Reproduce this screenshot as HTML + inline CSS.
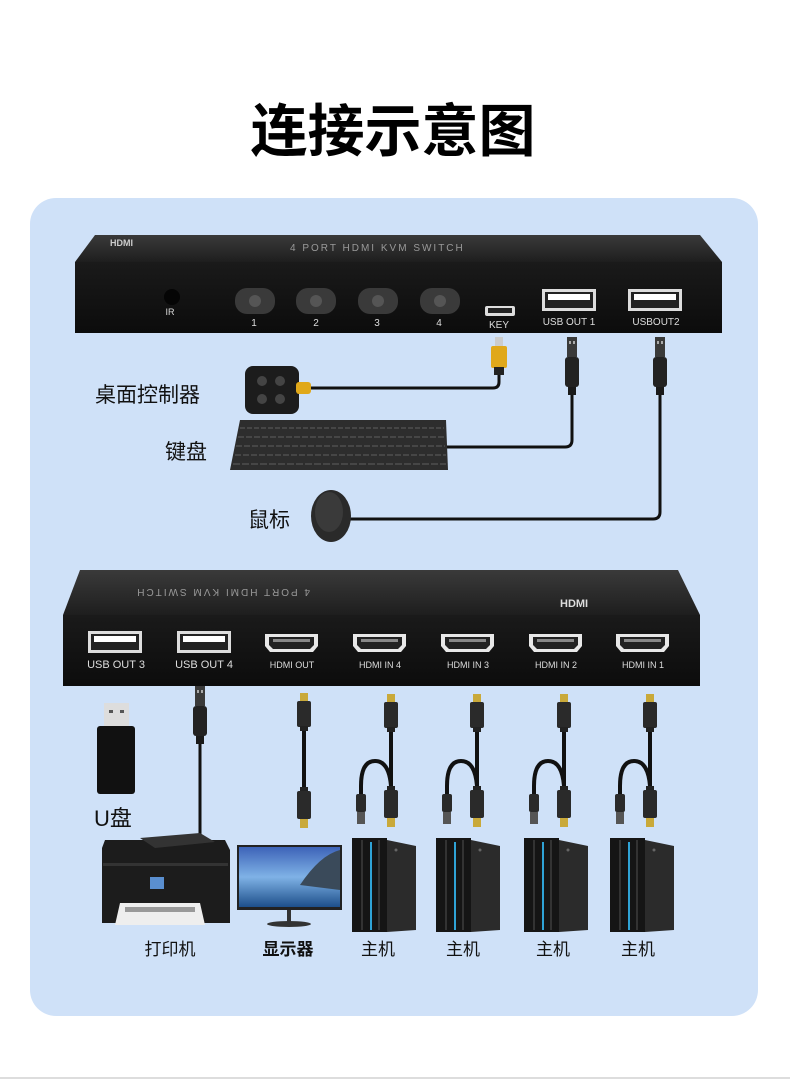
<!DOCTYPE html>
<html><head><meta charset="utf-8"><style>
html,body{margin:0;padding:0;background:#fff;}
svg{display:block;}
text{font-family:"Liberation Sans","Noto Sans CJK SC",sans-serif;}
</style></head><body>
<svg width="790" height="1082" viewBox="0 0 790 1082" xmlns="http://www.w3.org/2000/svg">
<defs>
<linearGradient id="top" x1="0" y1="0" x2="0" y2="1"><stop offset="0" stop-color="#3a3a3a"/><stop offset="1" stop-color="#1e1e1e"/></linearGradient>
<linearGradient id="front" x1="0" y1="0" x2="0" y2="1"><stop offset="0" stop-color="#1a1a1a"/><stop offset="1" stop-color="#0c0c0c"/></linearGradient>
<linearGradient id="sky" x1="0" y1="0" x2="0" y2="1"><stop offset="0" stop-color="#3d63b8"/><stop offset="0.5" stop-color="#7fb2e6"/><stop offset="1" stop-color="#1d4f8a"/></linearGradient>
<g id="hdmiport"><path d="M0,2 h53 v12 l-5,6 h-43 l-5,-6z" fill="#e8e8e8"/><path d="M4,5 h45 v8 l-4,4 h-37 l-4,-4z" fill="#222"/><rect x="8" y="7" width="37" height="3" fill="#888"/></g>
<g id="usbport"><rect x="0" y="0" width="54" height="22" fill="#ddd"/><rect x="3" y="3" width="48" height="16" fill="#222"/><rect x="6" y="5" width="42" height="6" fill="#fff"/></g>
<g id="hplug"><rect x="-4" y="0" width="8" height="9" fill="#c9a93a"/><rect x="-7" y="8" width="14" height="26" rx="2" fill="#2a2a2a"/><rect x="-4" y="33" width="8" height="5" fill="#222"/></g>
<g id="hplugB"><rect x="-4" y="-2" width="8" height="5" fill="#222"/><rect x="-7" y="2" width="14" height="28" rx="2" fill="#2a2a2a"/><rect x="-4" y="30" width="8" height="9" fill="#c9a93a"/></g>
<g id="uplug"><rect x="-5" y="0" width="10" height="20" fill="#3a3a3a"/><rect x="-3" y="4" width="2" height="3" fill="#aaa"/><rect x="1" y="4" width="2" height="3" fill="#aaa"/><rect x="-7" y="20" width="14" height="30" rx="3" fill="#222"/><rect x="-4" y="50" width="8" height="8" fill="#1a1a1a"/></g>
<g id="ycable"><use href="#hplug"/><line x1="0" y1="38" x2="0" y2="92" stroke="#111" stroke-width="4"/><path d="M-30,100 v-8 q0,-25 14,-25 q14,0 16,25" fill="none" stroke="#111" stroke-width="4"/><use href="#hplugB" transform="translate(0,94)"/><rect x="-35" y="100" width="10" height="18" rx="2" fill="#2a2a2a"/><rect x="-34" y="118" width="8" height="12" fill="#555"/></g>
<g id="pc"><path d="M0,0 h35 v94 h-35z" fill="#151515"/><path d="M35,2 l29,6 v84 l-29,2z" fill="#2b2b2b"/><rect x="9" y="2" width="2" height="90" fill="#333"/><rect x="18" y="4" width="2" height="88" fill="#2fa3d6"/><rect x="26" y="2" width="2" height="90" fill="#333"/><circle cx="44" cy="12" r="1.5" fill="#666"/></g>
</defs>

<rect x="30" y="198" width="728" height="818" rx="26" fill="#cfe1f8"/>
<text x="393" y="151" font-size="57" font-weight="bold" text-anchor="middle" fill="#000">连接示意图</text>

<!-- top device -->
<path d="M95,235 L700,235 L722,262 L75,262 Z" fill="url(#top)"/>
<text x="110" y="246" font-size="9" fill="#ccc" font-weight="bold">HDMI</text>
<text x="290" y="251" font-size="10" fill="#999" letter-spacing="2">4 PORT HDMI KVM SWITCH</text>
<rect x="75" y="262" width="647" height="71" fill="url(#front)"/>
<circle cx="172" cy="297" r="8" fill="#050505"/>
<text x="170" y="315" font-size="9" fill="#ddd" text-anchor="middle">IR</text>
<g fill="#3a3a3a">
<rect x="235" y="288" width="40" height="26" rx="12"/><rect x="296" y="288" width="40" height="26" rx="12"/><rect x="358" y="288" width="40" height="26" rx="12"/><rect x="420" y="288" width="40" height="26" rx="12"/></g>
<g fill="#555"><circle cx="255" cy="301" r="6"/><circle cx="316" cy="301" r="6"/><circle cx="378" cy="301" r="6"/><circle cx="440" cy="301" r="6"/></g>
<g font-size="10" fill="#ddd" text-anchor="middle"><text x="254" y="326">1</text><text x="316" y="326">2</text><text x="377" y="326">3</text><text x="439" y="326">4</text>
<text x="499" y="328">KEY</text><text x="569" y="325">USB OUT 1</text><text x="656" y="325">USBOUT2</text></g>
<rect x="485" y="306" width="30" height="10" rx="2" fill="#ddd"/><rect x="488" y="308" width="24" height="5" fill="#222"/>
<use href="#usbport" transform="translate(542,289)"/>
<use href="#usbport" transform="translate(628,289)"/>

<!-- top cables -->
<path d="M499,372 V382 q0,6 -6,6 H300" fill="none" stroke="#111" stroke-width="3"/>
<rect x="495" y="337" width="8" height="10" fill="#ccc"/><rect x="491" y="346" width="16" height="22" rx="2" fill="#e0a81a"/><rect x="494" y="367" width="10" height="8" fill="#222"/>
<path d="M572,395 V440 q0,7 -7,7 H445" fill="none" stroke="#111" stroke-width="3"/>
<use href="#uplug" transform="translate(572,337)"/>
<path d="M660,395 V512 q0,7 -7,7 H350" fill="none" stroke="#111" stroke-width="3"/>
<use href="#uplug" transform="translate(660,337)"/>

<!-- controller -->
<rect x="245" y="366" width="54" height="48" rx="8" fill="#1c1c1c"/>
<g fill="#444"><circle cx="262" cy="381" r="5"/><circle cx="280" cy="381" r="5"/><circle cx="262" cy="399" r="5"/><circle cx="280" cy="399" r="5"/></g>
<rect x="296" y="382" width="15" height="12" rx="3" fill="#e0a81a"/>
<text x="95" y="402" font-size="21" fill="#111">桌面控制器</text>
<!-- keyboard -->
<path d="M240,420 H446 L448,470 H230 Z" fill="#2d2d2d"/>
<g stroke="#555" stroke-width="1.2">
<line x1="240" y1="428" x2="444" y2="428" stroke-dasharray="5,2"/>
<line x1="238" y1="437" x2="445" y2="437" stroke-dasharray="6,2"/>
<line x1="236" y1="446" x2="445" y2="446" stroke-dasharray="6,2"/>
<line x1="235" y1="455" x2="446" y2="455" stroke-dasharray="6,2"/>
<line x1="233" y1="464" x2="446" y2="464" stroke-dasharray="7,2"/></g>
<text x="165" y="459" font-size="21" fill="#111">键盘</text>
<!-- mouse -->
<ellipse cx="331" cy="516" rx="20" ry="26" fill="#2a2a2a"/><ellipse cx="329" cy="512" rx="14" ry="20" fill="#3a3a3a"/>
<text x="248" y="527" font-size="21" fill="#111">鼠标</text>

<!-- bottom device -->
<path d="M80,570 L678,570 L700,615 L63,615 Z" fill="url(#top)"/>
<text x="470" y="589" font-size="10" fill="#999" letter-spacing="2" transform="rotate(180 390 589)">4 PORT HDMI KVM SWITCH</text>
<text x="560" y="607" font-size="11" fill="#ddd" font-weight="bold">HDMI</text>
<rect x="63" y="615" width="637" height="71" fill="url(#front)"/>
<use href="#usbport" transform="translate(88,631)"/>
<use href="#usbport" transform="translate(177,631)"/>
<use href="#hdmiport" transform="translate(265,632)"/>
<use href="#hdmiport" transform="translate(353,632)"/>
<use href="#hdmiport" transform="translate(441,632)"/>
<use href="#hdmiport" transform="translate(529,632)"/>
<use href="#hdmiport" transform="translate(616,632)"/>
<g fill="#ddd" text-anchor="middle"><text x="116" y="668" font-size="11">USB OUT 3</text><text x="204" y="668" font-size="11">USB OUT 4</text>
<g font-size="9"><text x="292" y="668">HDMI OUT</text><text x="380" y="668">HDMI IN 4</text><text x="468" y="668">HDMI IN 3</text><text x="556" y="668">HDMI IN 2</text><text x="643" y="668">HDMI IN 1</text></g></g>

<!-- USB stick -->
<rect x="104" y="703" width="25" height="24" fill="#ddd"/><rect x="109" y="710" width="4" height="3" fill="#555"/><rect x="120" y="710" width="4" height="3" fill="#555"/>
<rect x="97" y="726" width="38" height="68" rx="3" fill="#111"/>
<text x="94" y="826" font-size="22" fill="#111">U盘</text>
<!-- printer cable -->
<line x1="200" y1="740" x2="200" y2="840" stroke="#111" stroke-width="3"/>
<use href="#uplug" transform="translate(200,686)"/>
<!-- printer -->
<path d="M105,840 H225 L230,850 V923 H102 V848 Z" fill="#1c1c1c"/>
<path d="M140,838 L200,833 L215,842 L155,848 Z" fill="#333"/>
<rect x="103" y="863" width="125" height="3" fill="#333"/>
<rect x="150" y="877" width="14" height="12" fill="#5a8fd0"/>
<path d="M120,903 H200 L205,925 H115 Z" fill="#eee"/>
<rect x="125" y="907" width="70" height="5" fill="#999"/>
<text x="170" y="955" font-size="17" fill="#111" text-anchor="middle">打印机</text>
<!-- monitor -->
<rect x="237" y="845" width="105" height="65" fill="#222"/>
<rect x="239" y="847" width="101" height="60" fill="url(#sky)"/>
<path d="M300,885 q20,-30 40,-35 v40 z" fill="#3a4a5a"/>
<rect x="287" y="910" width="4" height="12" fill="#333"/>
<ellipse cx="289" cy="924" rx="22" ry="3" fill="#333"/>
<text x="288" y="955" font-size="17" fill="#111" font-weight="bold" text-anchor="middle">显示器</text>

<!-- HDMI cables -->
<use href="#hplug" transform="translate(304,693)"/>
<line x1="304" y1="731" x2="304" y2="787" stroke="#111" stroke-width="4"/>
<use href="#hplugB" transform="translate(304,789)"/>
<use href="#ycable" transform="translate(391,694)"/>
<use href="#ycable" transform="translate(477,694)"/>
<use href="#ycable" transform="translate(564,694)"/>
<use href="#ycable" transform="translate(650,694)"/>

<!-- PCs -->
<use href="#pc" transform="translate(352,838)"/>
<use href="#pc" transform="translate(436,838)"/>
<use href="#pc" transform="translate(524,838)"/>
<use href="#pc" transform="translate(610,838)"/>
<g font-size="17" fill="#111" text-anchor="middle"><text x="378" y="955">主机</text><text x="463" y="955">主机</text><text x="553" y="955">主机</text><text x="638" y="955">主机</text></g>

<rect x="0" y="1077" width="790" height="2" fill="#ddd"/>
</svg>
</body></html>
